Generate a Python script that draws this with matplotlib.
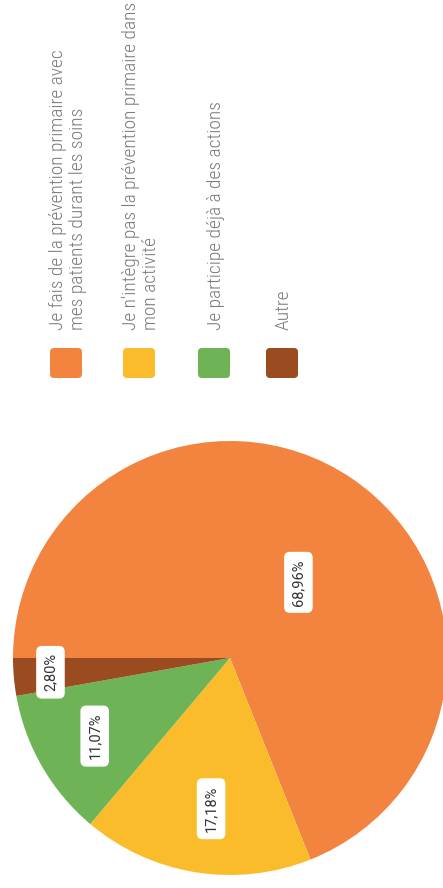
import numpy as np
import matplotlib.pyplot as plt
from matplotlib.patches import FancyBboxPatch

# donnees
categories = [
    "Je fais de la prévention primaire avec\nmes patients durant les soins",
    "Je n'intègre pas la prévention primaire dans\nmon activité",
    "Je participe déjà à des actions",
    "Autre",
]
values = [68.96, 17.18, 11.07, 2.80]
colors = ['#F2843F', '#FBBC2C', '#6EB356', '#9A4B20']

plt.rcParams['font.family'] = ['Roboto Condensed', 'Roboto', 'DejaVu Sans']

W, H = 443, 888
fig = plt.figure(figsize=(W / 100, H / 100), dpi=100)
ax = fig.add_axes([0, 0, 1, 1])

# camembert (tourne de 90 degres comme l'image)
cx, cy, R = 230, 230, 217
wedges, _ = ax.pie(values, colors=colors, startangle=180, counterclock=False,
                   center=(cx, cy), radius=R, frame=True,
                   wedgeprops=dict(linewidth=0))
ax.set_xlim(0, W)
ax.set_ylim(0, H)
ax.set_aspect('equal')
ax.axis('off')

label_r = [0.47, 0.70, 0.72, 0.83]
label_shift = [-8, 2, 0, -0.5]
for w, v, r, s in zip(wedges, values, label_r, label_shift):
    a = np.deg2rad((w.theta1 + w.theta2) / 2 + s)
    x = cx + r * R * np.cos(a)
    y = cy + r * R * np.sin(a)
    txt = ('%.2f%%' % v).replace('.', ',')
    ax.text(x, y, txt, rotation=90, ha='center', va='center', fontsize=10.5,
            color='#333333', family=['Roboto', 'DejaVu Sans'],
            bbox=dict(boxstyle='round,pad=0.5,rounding_size=0.4', fc='white', ec='none'))

# legende
leg_x = [66, 139, 214, 282]
sq_w, sq_h = 32, 30
sq_y = 510
for x, c, lab in zip(leg_x, colors, categories):
    ax.add_patch(FancyBboxPatch((x - sq_w / 2 + 4, sq_y + 4), sq_w - 8, sq_h - 8,
                                boxstyle='round,pad=4', fc=c, ec='none'))
    ax.text(x + 2, sq_y + sq_h + 18, lab, rotation=90, rotation_mode='anchor',
            ha='left', va='center', fontsize=14, color='#7a7a7a',
            fontweight='light', linespacing=1.1)

fig.savefig('out.png', dpi=100)
